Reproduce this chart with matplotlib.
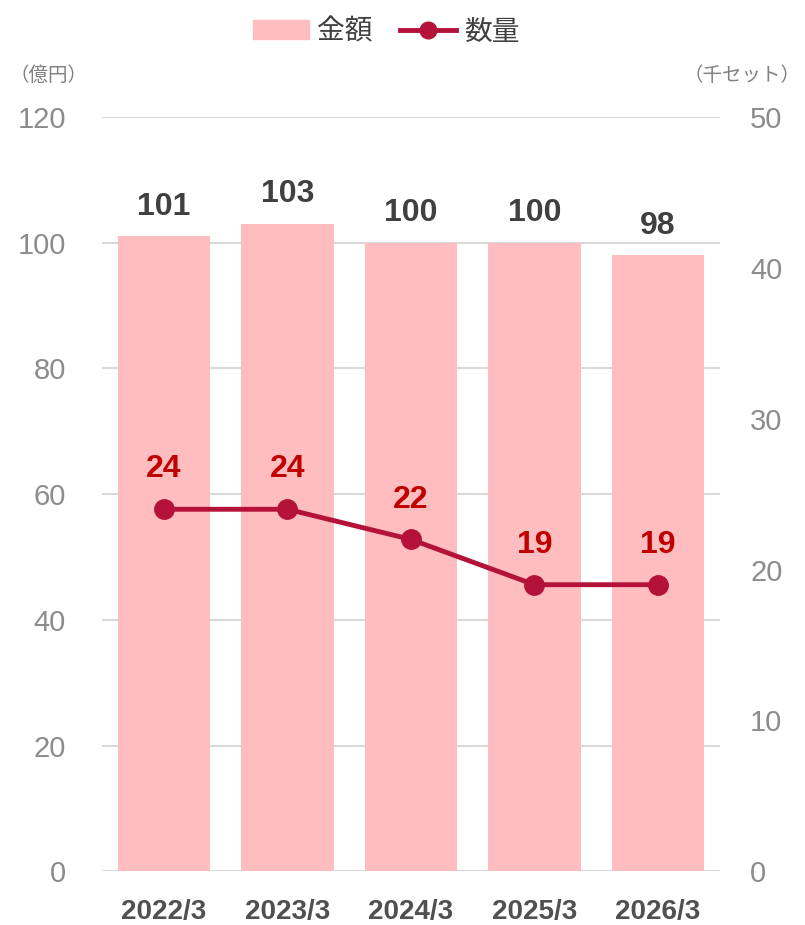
import numpy as np
import matplotlib
matplotlib.use("Agg")
import matplotlib.pyplot as plt
from matplotlib.patches import Patch
from matplotlib.lines import Line2D

# データ
labels = ["2022/3", "2023/3", "2024/3", "2025/3", "2026/3"]
kingaku = [101, 103, 100, 100, 98]   # 億円
suryo = [24, 24, 22, 19, 19]         # 千セット

bar_color = "#FFBDBF"
line_color = "#B5123A"
cjk = ["Noto Sans CJK JP", "DejaVu Sans"]

plt.rcParams["font.family"] = ["Liberation Sans", "DejaVu Sans"]

fig = plt.figure(figsize=(8.05, 9.25), dpi=100)
ax = fig.add_axes([0.127, 0.058, 0.767, 0.8155])
ax2 = ax.twinx()

x = np.arange(len(labels))
ax.bar(x, kingaku, width=0.75, color=bar_color, zorder=2)
for xi, v in zip(x, kingaku):
    ax.text(xi, v + 2.3, str(v), ha="center", va="bottom", fontsize=23,
            fontweight="bold", color="#404040")

ax2.plot(x, suryo, color=line_color, lw=3.5, marker="o", ms=14, zorder=3)
for xi, v in zip(x, suryo):
    ax2.text(xi, v + 1.65, str(v), ha="center", va="bottom", fontsize=23,
             fontweight="bold", color="#C00000")

ax.set_xlim(-0.5, len(labels) - 0.5)
ax.set_ylim(0, 120)
ax.set_yticks(range(0, 121, 20))
ax2.set_ylim(0, 50)
ax2.set_yticks(range(0, 51, 10))
ax.yaxis.grid(True, color="#D9D9D9", lw=1.5, zorder=0)
ax.set_axisbelow(True)

for a in (ax, ax2):
    for s in a.spines.values():
        s.set_visible(False)
    a.tick_params(length=0)

ax.tick_params(axis="y", labelsize=21, labelcolor="#8C8C8C", pad=26)
ax2.tick_params(axis="y", labelsize=21, labelcolor="#8C8C8C", pad=22)
ax.set_xticks(x)
ax.set_xticklabels(labels, fontsize=20, color="#505050", fontweight="bold")
ax.tick_params(axis="x", pad=20)

fig.text(0.012, 0.918, "（億円）", fontsize=14, color="#808080", family=cjk, va="center")
fig.text(0.995, 0.918, "（千セット）", fontsize=14, color="#808080", family=cjk,
         va="center", ha="right")

handles = [Patch(color=bar_color),
           Line2D([0], [0], color=line_color, lw=3.5, marker="o", ms=12)]
fig.legend(handles, ["金額", "数量"], loc="center", bbox_to_anchor=(0.48, 0.966),
           ncol=2, frameon=False, prop={"family": cjk, "size": 20},
           handlelength=2.0, handletextpad=0.3, columnspacing=1.0,
           labelcolor="#404040")

fig.savefig("out.png", dpi=100)
